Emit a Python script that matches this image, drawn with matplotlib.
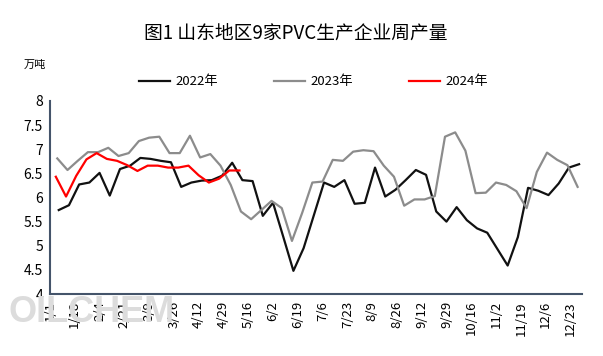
import matplotlib
matplotlib.use("Agg")
import matplotlib.pyplot as plt

plt.rcParams['font.family'] = ['Noto Sans CJK SC', 'DejaVu Sans']

# weekly output, 10k tons
y2022 = [5.74, 5.84, 6.27, 6.31, 6.51, 6.04, 6.59, 6.66, 6.82, 6.80,
         6.76, 6.73, 6.22, 6.31, 6.35, 6.36, 6.45, 6.72, 6.36, 6.34,
         5.62, 5.89, 5.19, 4.48, 4.95, 5.63, 6.31, 6.22, 6.36, 5.87,
         5.89, 6.62, 6.02, 6.16, 6.36, 6.57, 6.47, 5.71, 5.50, 5.80,
         5.53, 5.36, 5.27, 4.93, 4.59, 5.18, 6.20, 6.14, 6.05, 6.29,
         6.62, 6.69]
y2023 = [6.81, 6.57, 6.76, 6.94, 6.94, 7.03, 6.86, 6.92, 7.17, 7.24,
         7.26, 6.92, 6.92, 7.28, 6.83, 6.90, 6.66, 6.26, 5.71, 5.55,
         5.74, 5.93, 5.78, 5.10, 5.68, 6.31, 6.33, 6.78, 6.76, 6.95,
         6.98, 6.96, 6.66, 6.43, 5.83, 5.96, 5.96, 6.03, 7.26, 7.35,
         6.97, 6.09, 6.10, 6.31, 6.26, 6.13, 5.78, 6.53, 6.93, 6.78,
         6.67, 6.22]
y2024 = [6.43, 6.02, 6.45, 6.79, 6.92, 6.80, 6.76, 6.67, 6.55, 6.66,
         6.66, 6.62, 6.62, 6.66, 6.46, 6.31, 6.39, 6.56, 6.56]

# first Friday of each year (day of year), weekly after that
start = {"2022年": 6, "2023年": 5, "2024年": 4}
tick_labels = ["1/1", "1/18", "2/4", "2/21", "3/9", "3/26", "4/12", "4/29",
               "5/16", "6/2", "6/19", "7/6", "7/23", "8/9", "8/26", "9/12",
               "9/29", "10/16", "11/2", "11/19", "12/6", "12/23"]

fig = plt.figure(figsize=(6.03, 3.56), dpi=100)
ax = fig.add_axes([50 / 603, 62 / 356, 532 / 603, 193 / 356])

# faint logo watermark
fig.text(8 / 603, 1 - 322 / 356, "OILCHEM", fontsize=26, fontweight="bold",
         family="Liberation Sans", color="#dcdcdc", zorder=0)

series = [("2022年", y2022, "#111111"), ("2023年", y2023, "#8c8c8c"),
          ("2024年", y2024, "#ff0000")]
for name, vals, col in series:
    days = [start[name] + 7 * i for i in range(len(vals))]
    ax.plot(days, vals, color=col, lw=1.6, label=name)

ax.set_xlim(0, 365)
ax.set_ylim(4, 8)
ax.set_xticks(range(0, 17 * len(tick_labels), 17))
ax.set_xticklabels(tick_labels, rotation=90, fontsize=9.5)
ax.set_yticks([4 + 0.5 * k for k in range(9)])
ax.set_yticklabels(["%g" % (4 + 0.5 * k) for k in range(9)], fontsize=10)
ax.tick_params(length=0, pad=5)
ax.set_facecolor("none")
for s in ["top", "right"]:
    ax.spines[s].set_visible(False)
for s in ["left", "bottom"]:
    ax.spines[s].set_color("#44546a")
    ax.spines[s].set_linewidth(1.5)

fig.suptitle("图1 山东地区9家PVC生产企业周产量", x=0.49, y=0.935, fontsize=13.5)
fig.text(35 / 603, 1 - 65 / 356, "万吨", fontsize=8, ha="center", va="center")
fig.legend(loc="center", bbox_to_anchor=(0.52, 1 - 82 / 356), ncol=3,
           frameon=False, fontsize=9.5, handlelength=2.4, columnspacing=4.2,
           handletextpad=0.4)

fig.savefig("out.png", dpi=100)
